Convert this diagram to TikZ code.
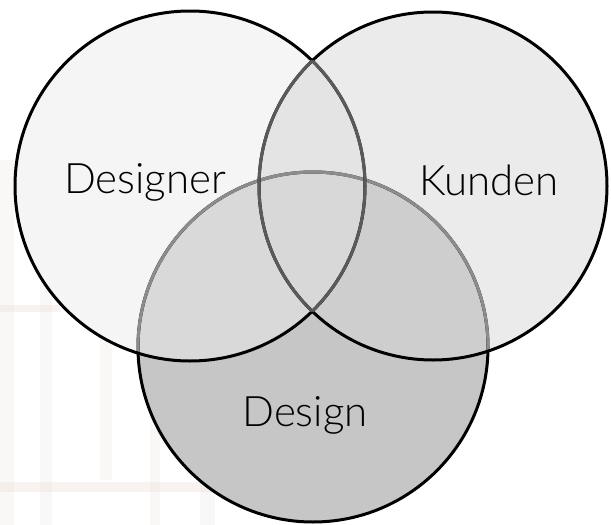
\documentclass[tikz,border=0pt]{standalone}
\usepackage{fontspec}
\newfontfamily\lblfont{Lato}[UprightFont={* Light}]
\definecolor{cA}{HTML}{F4F5F4}
\definecolor{cB}{HTML}{EBEBEB}
\definecolor{cC}{HTML}{C6C6C6}
\definecolor{cAB}{HTML}{E4E4E4}
\definecolor{cAC}{HTML}{D9D9D9}
\definecolor{cBC}{HTML}{CECECE}
\definecolor{cABC}{HTML}{D8D8D8}
\definecolor{lineGray}{HTML}{8C8C8C}
\definecolor{lineDark}{HTML}{5A5A5A}
\definecolor{bgA}{HTML}{EFE6E0}
\definecolor{bgB}{HTML}{E8DAD2}
\tikzset{
  rim/.style={line width=3pt},
  lbl/.style={font=\lblfont\fontsize{42}{48}\selectfont, text=black, anchor=base, inner sep=0pt},
  bgbox/.style={fill=bgA, draw=none, opacity=0.25},
  shelf/.style={fill=bgB, draw=none, opacity=0.3}
}
\begin{document}
\begin{tikzpicture}[x=1pt,y=-1pt]
\useasboundingbox (0,0) rectangle (611,525);
\fill[white] (0,0) rectangle (611,525);
% faint background photo
\fill[bgbox] (0,160) rectangle (14,525);
\fill[bgbox] (40,250) rectangle (52,525);
\fill[bgbox] (100,330) rectangle (112,480);
\fill[bgbox] (150,360) rectangle (160,525);
\fill[bgbox] (200,380) rectangle (215,525);
\fill[shelf] (0,305) rectangle (60,312);
\fill[shelf] (0,482) rectangle (230,492);
\coordinate (cDesigner) at (190,186);
\coordinate (cKunden) at (433,186);
\coordinate (cDesign) at (313,347);
% fills
\fill[cA] (cDesigner) circle[radius=175];
\fill[cB] (cKunden) circle[radius=174];
\fill[cC] (cDesign) circle[radius=175];
\begin{scope}
  \clip (cDesigner) circle[radius=175];
  \fill[cAB] (cKunden) circle[radius=174];
  \fill[cAC] (cDesign) circle[radius=175];
\end{scope}
\begin{scope}
  \clip (cKunden) circle[radius=174];
  \fill[cBC] (cDesign) circle[radius=175];
\end{scope}
\begin{scope}
  \clip (cDesigner) circle[radius=175];
  \clip (cKunden) circle[radius=174];
  \fill[cABC] (cDesign) circle[radius=175];
\end{scope}
% outlines
\draw[rim, black] (cDesign) circle[radius=175];
\begin{scope}
  \clip (cDesigner) circle[radius=175];
  \draw[rim, lineGray] (cDesign) circle[radius=175];
\end{scope}
\begin{scope}
  \clip (cKunden) circle[radius=174];
  \draw[rim, lineGray] (cDesign) circle[radius=175];
\end{scope}
\draw[rim, black] (cDesigner) circle[radius=175];
\draw[rim, black] (cKunden) circle[radius=174];
\begin{scope}
  \clip (cKunden) circle[radius=174];
  \draw[rim, lineDark] (cDesigner) circle[radius=175];
\end{scope}
\begin{scope}
  \clip (cDesigner) circle[radius=175];
  \draw[rim, lineDark] (cKunden) circle[radius=174];
\end{scope}
% labels
\node[lbl] (tDesigner) at (145,193) {Designer};
\node[lbl] (tKunden) at (489,195) {Kunden};
\node[lbl] (tDesign) at (305,426) {Design};
\end{tikzpicture}
\end{document}
